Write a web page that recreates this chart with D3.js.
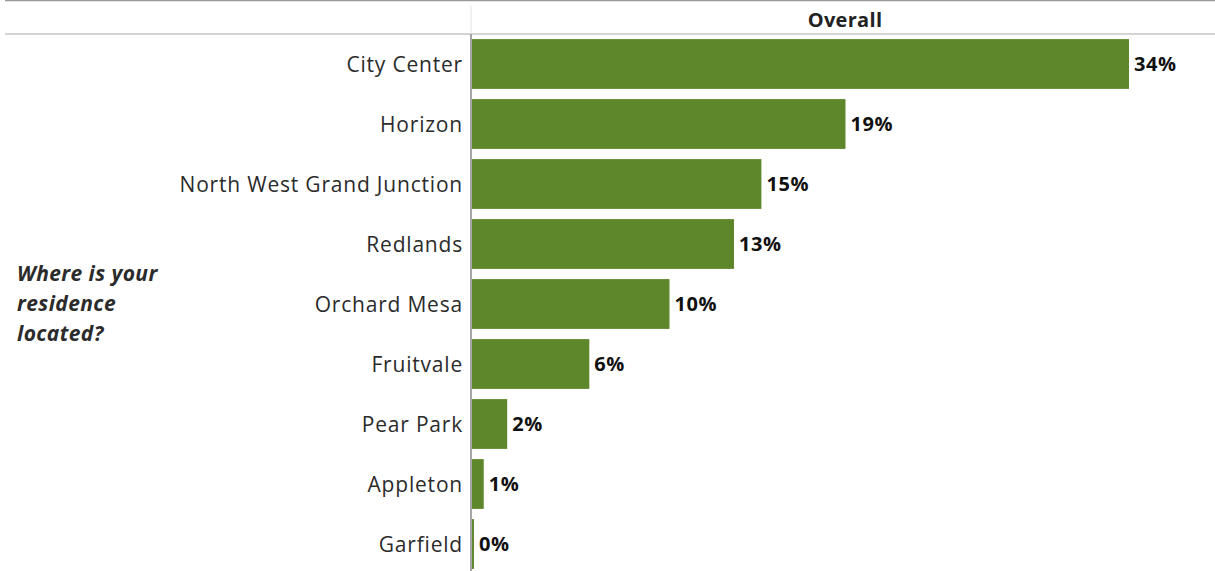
<!DOCTYPE html>
<html>
<head>
<meta charset="utf-8">
<script src="https://cdn.jsdelivr.net/npm/d3@7"></script>
<style>
  body { margin: 0; background: #fff; }
  svg { display: block; }
</style>
</head>
<body>
<div id="chart"></div>
<script>
var categories = ["City Center", "Horizon", "North West Grand Junction", "Redlands",
  "Orchard Mesa", "Fruitvale", "Pear Park", "Appleton", "Garfield"];
var values = [33.6, 19.1, 14.8, 13.4, 10.1, 6.0, 1.8, 0.6, 0.1];
var headerLabel = "Overall";
var rowTitle = ["Where is your", "residence", "located?"];

var width = 1215, height = 571;
var axisX = 471, headerBottom = 34;

var svg = d3.select("#chart").append("svg")
  .attr("width", width)
  .attr("height", height)
  .style("font-family", "'Open Sans', 'Noto Sans', sans-serif");

// top border + header rule
svg.append("line").attr("x1", 5).attr("x2", width).attr("y1", 0.5).attr("y2", 0.5)
  .attr("stroke", "#999").attr("stroke-width", 1.5);
svg.append("line").attr("x1", 5).attr("x2", width).attr("y1", headerBottom).attr("y2", headerBottom)
  .attr("stroke", "#d4d4d4").attr("stroke-width", 2);
svg.append("line").attr("x1", axisX).attr("x2", axisX).attr("y1", 6).attr("y2", headerBottom)
  .attr("stroke", "#e2e2e2").attr("stroke-width", 1);

svg.append("text")
  .attr("x", (axisX + width) / 2 + 2).attr("y", 27)
  .attr("text-anchor", "middle")
  .style("font-size", "20px").style("font-weight", "bold").style("fill", "#222")
  .style("letter-spacing", "0.3px")
  .text(headerLabel);

var x = d3.scaleLinear().domain([0, 33.6]).range([axisX + 1, 1129]);
var y = d3.scaleBand().domain(categories).range([34, 574]).paddingInner(0.17).paddingOuter(0.085);

var g = svg.append("g");

g.selectAll("rect").data(categories).enter().append("rect")
  .attr("x", x(0))
  .attr("y", function (d) { return y(d); })
  .attr("width", function (d, i) { return Math.max(1.5, x(values[i]) - x(0)); })
  .attr("height", y.bandwidth())
  .style("fill", "#5e862b");

g.selectAll("text.val").data(categories).enter().append("text")
  .attr("class", "val")
  .attr("x", function (d, i) { return Math.max(x(0) + 1.5, x(values[i])) + 5; })
  .attr("y", function (d) { return y(d) + y.bandwidth() / 2; })
  .attr("dy", "0.36em")
  .style("font-size", "20px").style("font-weight", "bold").style("fill", "#111")
  .style("letter-spacing", "0.6px")
  .text(function (d, i) { return Math.round(values[i]) + "%"; });

g.selectAll("text.cat").data(categories).enter().append("text")
  .attr("class", "cat")
  .attr("x", axisX - 8)
  .attr("y", function (d) { return y(d) + y.bandwidth() / 2; })
  .attr("dy", "0.36em")
  .attr("text-anchor", "end")
  .style("font-size", "21px").style("fill", "#2b2b2b")
  .style("letter-spacing", "0.8px")
  .text(function (d) { return d; });

// axis line
svg.append("line").attr("x1", axisX).attr("x2", axisX).attr("y1", headerBottom).attr("y2", height)
  .attr("stroke", "#888").attr("stroke-width", 1.5);

svg.append("g").selectAll("text").data(rowTitle).enter().append("text")
  .attr("x", 17)
  .attr("y", function (d, i) { return 281 + i * 30; })
  .style("font-size", "21px").style("font-weight", "bold").style("font-style", "italic")
  .style("fill", "#2b2b2b")
  .style("letter-spacing", "0.4px")
  .text(function (d) { return d; });
</script>
</body>
</html>
